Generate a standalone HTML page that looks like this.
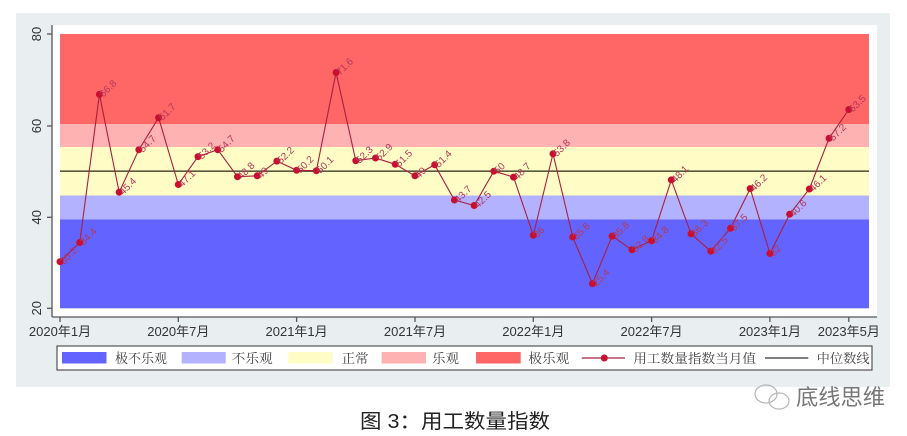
<!DOCTYPE html>
<html><head><meta charset="utf-8"><style>
html,body{margin:0;padding:0;background:#fff;}
svg{display:block;}
</style></head><body>
<svg width="907" height="436" viewBox="0 0 907 436" xmlns="http://www.w3.org/2000/svg">
<rect x="0" y="0" width="907" height="436" fill="#ffffff"/>
<rect x="16" y="13" width="874" height="374" fill="#e9eef1"/>
<rect x="52" y="25" width="825" height="292" fill="#ffffff"/>
<!-- bands -->
<rect x="60" y="34" width="809" height="90" fill="#ff6666"/>
<rect x="60" y="124" width="809" height="23" fill="#ffb2b2"/>
<rect x="60" y="147" width="809" height="48.5" fill="#fffcc6"/>
<rect x="60" y="195.5" width="809" height="24" fill="#b2b2ff"/>
<rect x="60" y="219.5" width="809" height="88.8" fill="#6363ff"/>
<!-- median -->
<line x1="60" y1="171.2" x2="869" y2="171.2" stroke="#5a5a3c" stroke-width="1.6"/>
<!-- axes -->
<g stroke="#555" stroke-width="1.3">
<line x1="52" y1="25" x2="52" y2="317"/>
<line x1="52" y1="317" x2="877" y2="317"/>
<line x1="47" y1="34" x2="52" y2="34"/>
<line x1="47" y1="126" x2="52" y2="126"/>
<line x1="47" y1="217.3" x2="52" y2="217.3"/>
<line x1="47" y1="308.3" x2="52" y2="308.3"/>
<line x1="60" y1="317" x2="60" y2="322"/>
<line x1="178.3" y1="317" x2="178.3" y2="322"/>
<line x1="296.6" y1="317" x2="296.6" y2="322"/>
<line x1="415" y1="317" x2="415" y2="322"/>
<line x1="533.3" y1="317" x2="533.3" y2="322"/>
<line x1="651.6" y1="317" x2="651.6" y2="322"/>
<line x1="769.9" y1="317" x2="769.9" y2="322"/>
<line x1="848.8" y1="317" x2="848.8" y2="322"/>
</g>
<g font-family="Liberation Sans, sans-serif" font-size="13" fill="#333" text-anchor="middle">
<text transform="translate(41,34) rotate(-90)">80</text>
<text transform="translate(41,126) rotate(-90)">60</text>
<text transform="translate(41,217.3) rotate(-90)">40</text>
<text transform="translate(41,308.3) rotate(-90)">20</text>
</g>
<g font-family="Liberation Sans, 'Noto Sans CJK SC', sans-serif" font-size="13" fill="#333" text-anchor="middle">
<text x="60" y="336">2020年1月</text>
<text x="178.3" y="336">2020年7月</text>
<text x="296.6" y="336">2021年1月</text>
<text x="415" y="336">2021年7月</text>
<text x="533.3" y="336">2022年1月</text>
<text x="651.6" y="336">2022年7月</text>
<text x="769.9" y="336">2023年1月</text>
<text x="848.8" y="336">2023年5月</text>
</g>
<!-- series -->
<polyline fill="none" stroke="#a8203f" stroke-width="1.1" points="60,261.7 79.72,242.5 99.44,94.4 119.16,192.2 138.88,149.7 158.6,117.7 178.32,184.5 198.04,156.6 217.76,149.7 237.48,176.7 257.2,175.8 276.92,161.1 296.64,170.3 316.36,170.7 336.08,72.5 355.8,160.7 375.52,158 395.24,164.3 414.96,175.8 434.68,164.8 454.4,200 474.12,205.5 493.84,171.2 513.56,177.1 533.28,235.2 553,153.8 572.72,237 592.44,283.6 612.16,236.1 631.88,249.8 651.6,240.7 671.32,179.9 691.04,233.8 710.76,251.2 730.48,228.3 750.2,188.6 769.92,253.5 789.64,214.2 809.36,189 829.08,138.3 848.8,109.5"/>
<g fill="#c8102e">
<circle cx="60" cy="261.7" r="3.5"/><circle cx="79.72" cy="242.5" r="3.5"/><circle cx="99.44" cy="94.4" r="3.5"/><circle cx="119.16" cy="192.2" r="3.5"/><circle cx="138.88" cy="149.7" r="3.5"/><circle cx="158.6" cy="117.7" r="3.5"/><circle cx="178.32" cy="184.5" r="3.5"/><circle cx="198.04" cy="156.6" r="3.5"/><circle cx="217.76" cy="149.7" r="3.5"/><circle cx="237.48" cy="176.7" r="3.5"/><circle cx="257.2" cy="175.8" r="3.5"/><circle cx="276.92" cy="161.1" r="3.5"/><circle cx="296.64" cy="170.3" r="3.5"/><circle cx="316.36" cy="170.7" r="3.5"/><circle cx="336.08" cy="72.5" r="3.5"/><circle cx="355.8" cy="160.7" r="3.5"/><circle cx="375.52" cy="158" r="3.5"/><circle cx="395.24" cy="164.3" r="3.5"/><circle cx="414.96" cy="175.8" r="3.5"/><circle cx="434.68" cy="164.8" r="3.5"/><circle cx="454.4" cy="200" r="3.5"/><circle cx="474.12" cy="205.5" r="3.5"/><circle cx="493.84" cy="171.2" r="3.5"/><circle cx="513.56" cy="177.1" r="3.5"/><circle cx="533.28" cy="235.2" r="3.5"/><circle cx="553" cy="153.8" r="3.5"/><circle cx="572.72" cy="237" r="3.5"/><circle cx="592.44" cy="283.6" r="3.5"/><circle cx="612.16" cy="236.1" r="3.5"/><circle cx="631.88" cy="249.8" r="3.5"/><circle cx="651.6" cy="240.7" r="3.5"/><circle cx="671.32" cy="179.9" r="3.5"/><circle cx="691.04" cy="233.8" r="3.5"/><circle cx="710.76" cy="251.2" r="3.5"/><circle cx="730.48" cy="228.3" r="3.5"/><circle cx="750.2" cy="188.6" r="3.5"/><circle cx="769.92" cy="253.5" r="3.5"/><circle cx="789.64" cy="214.2" r="3.5"/><circle cx="809.36" cy="189" r="3.5"/><circle cx="829.08" cy="138.3" r="3.5"/><circle cx="848.8" cy="109.5" r="3.5"/>
</g>
<g font-family="Liberation Sans, sans-serif" font-size="10" fill="#b3385a">
<text transform="translate(64,265) rotate(-45)">30.2</text>
<text transform="translate(83.7,245.8) rotate(-45)">34.4</text>
<text transform="translate(103.4,97.7) rotate(-45)">66.8</text>
<text transform="translate(123.2,195.5) rotate(-45)">45.4</text>
<text transform="translate(142.9,153) rotate(-45)">54.7</text>
<text transform="translate(162.6,121) rotate(-45)">61.7</text>
<text transform="translate(182.3,187.8) rotate(-45)">47.1</text>
<text transform="translate(202,159.9) rotate(-45)">53.2</text>
<text transform="translate(221.8,153) rotate(-45)">54.7</text>
<text transform="translate(241.5,180) rotate(-45)">48.8</text>
<text transform="translate(261.2,179.1) rotate(-45)">49</text>
<text transform="translate(280.9,164.4) rotate(-45)">52.2</text>
<text transform="translate(300.6,173.6) rotate(-45)">50.2</text>
<text transform="translate(320.4,174) rotate(-45)">50.1</text>
<text transform="translate(340.1,75.8) rotate(-45)">71.6</text>
<text transform="translate(359.8,164) rotate(-45)">52.3</text>
<text transform="translate(379.5,161.3) rotate(-45)">52.9</text>
<text transform="translate(399.2,167.6) rotate(-45)">51.5</text>
<text transform="translate(419,179.1) rotate(-45)">49</text>
<text transform="translate(438.7,168.1) rotate(-45)">51.4</text>
<text transform="translate(458.4,203.3) rotate(-45)">43.7</text>
<text transform="translate(478.1,208.8) rotate(-45)">42.5</text>
<text transform="translate(497.8,174.5) rotate(-45)">50</text>
<text transform="translate(517.6,180.4) rotate(-45)">48.7</text>
<text transform="translate(537.3,238.5) rotate(-45)">36</text>
<text transform="translate(557,157.1) rotate(-45)">53.8</text>
<text transform="translate(576.7,240.3) rotate(-45)">35.6</text>
<text transform="translate(596.4,286.9) rotate(-45)">25.4</text>
<text transform="translate(616.2,239.4) rotate(-45)">35.8</text>
<text transform="translate(635.9,253.1) rotate(-45)">32.8</text>
<text transform="translate(655.6,244) rotate(-45)">34.8</text>
<text transform="translate(675.3,183.2) rotate(-45)">48.1</text>
<text transform="translate(695,237.1) rotate(-45)">36.3</text>
<text transform="translate(714.8,254.5) rotate(-45)">32.5</text>
<text transform="translate(734.5,231.6) rotate(-45)">37.5</text>
<text transform="translate(754.2,191.9) rotate(-45)">46.2</text>
<text transform="translate(773.9,256.8) rotate(-45)">32</text>
<text transform="translate(793.6,217.5) rotate(-45)">40.6</text>
<text transform="translate(813.4,192.3) rotate(-45)">46.1</text>
<text transform="translate(833.1,141.6) rotate(-45)">57.2</text>
<text transform="translate(852.8,112.8) rotate(-45)">63.5</text>
</g>
<!-- legend -->
<rect x="57" y="346" width="815" height="24" fill="#ffffff" stroke="#333" stroke-width="1"/>
<rect x="62" y="352" width="44.5" height="11.5" fill="#6363ff"/>
<rect x="181.7" y="352" width="44" height="11.5" fill="#b2b2ff"/>
<rect x="288.3" y="352" width="44.4" height="11.5" fill="#fffcc6"/>
<rect x="381.7" y="352" width="44.3" height="11.5" fill="#ffb2b2"/>
<rect x="476" y="352" width="44.7" height="11.5" fill="#ff6666"/>
<line x1="581.7" y1="358" x2="625" y2="358" stroke="#a8203f" stroke-width="1.3"/>
<circle cx="604.3" cy="358" r="3.5" fill="#c8102e"/>
<line x1="765" y1="358" x2="808.3" y2="358" stroke="#555" stroke-width="1.6"/>
<g font-family="'Noto Serif CJK SC', serif" font-size="13" fill="#444">
<text x="115" y="363" textLength="52" lengthAdjust="spacingAndGlyphs">极不乐观</text>
<text x="231.7" y="363" textLength="41" lengthAdjust="spacingAndGlyphs">不乐观</text>
<text x="341.7" y="363" textLength="27" lengthAdjust="spacingAndGlyphs">正常</text>
<text x="432" y="363" textLength="27" lengthAdjust="spacingAndGlyphs">乐观</text>
<text x="528.3" y="363" textLength="41" lengthAdjust="spacingAndGlyphs">极乐观</text>
<text x="633.3" y="363" textLength="122.7" lengthAdjust="spacingAndGlyphs">用工数量指数当月值</text>
<text x="816.7" y="363" textLength="53" lengthAdjust="spacingAndGlyphs">中位数线</text>
</g>
<!-- title -->
<text x="360" y="428" font-family="'Liberation Sans','Noto Sans CJK SC',sans-serif" font-size="20" fill="#222" textLength="190" lengthAdjust="spacingAndGlyphs">图 3：用工数量指数</text>
<!-- watermark -->
<g fill="none" stroke="#b5b5b5" stroke-width="1.2">
<ellipse cx="766" cy="394" rx="11" ry="9"/>
<ellipse cx="779" cy="401" rx="10" ry="8"/>
</g>
<text x="796" y="405" font-family="'Noto Sans CJK SC',sans-serif" font-size="22" fill="#777" textLength="89" lengthAdjust="spacingAndGlyphs">底线思维</text>
</svg>
</body></html>
